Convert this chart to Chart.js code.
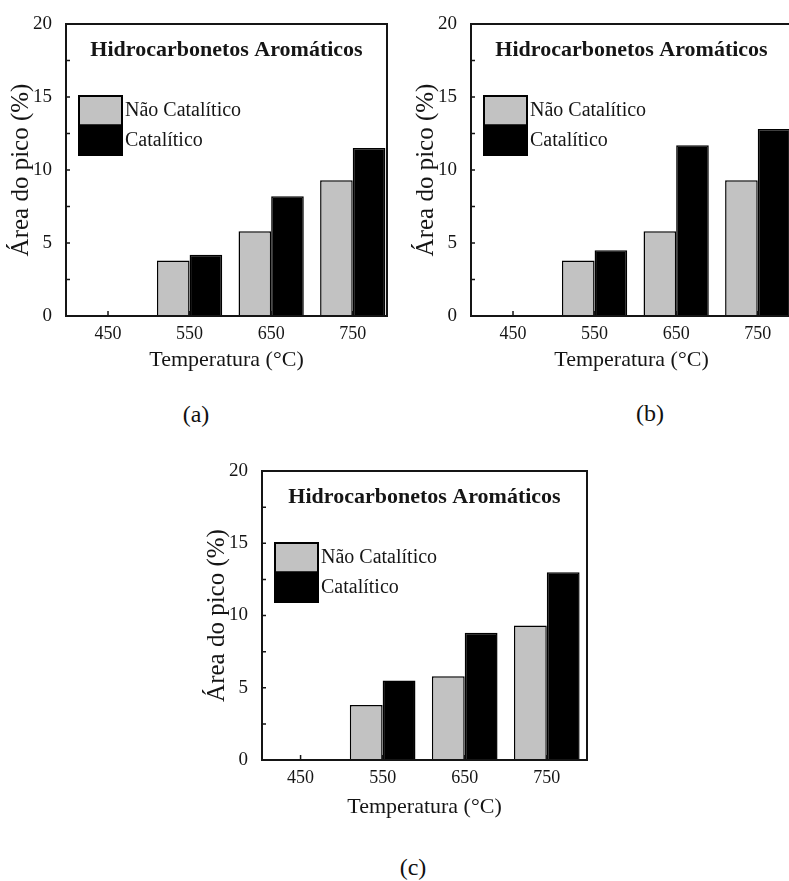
<!DOCTYPE html>
<html>
<head>
<meta charset="utf-8">
<script src="https://cdn.jsdelivr.net/npm/chart.js@4.4.0/dist/chart.umd.min.js"></script>
<style>
  html, body { margin: 0; padding: 0; background: #fff; overflow: hidden; width: 789px; height: 881px; }
  canvas { position: absolute; }
  .tag { position: absolute; font-family: "Liberation Serif", serif; font-size: 24px; color: #111; transform: translate(-50%, -50%); }
</style>
</head>
<body>
<canvas id="chartA" width="400" height="375" style="left:0;top:0"></canvas>
<canvas id="chartB" width="400" height="375" style="left:405px;top:0"></canvas>
<canvas id="chartC" width="400" height="375" style="left:196px;top:447px"></canvas>
<div class="tag" style="left:196px;top:414px">(a)</div>
<div class="tag" style="left:650px;top:413px">(b)</div>
<div class="tag" style="left:413px;top:867px">(c)</div>
<script>
(function () {
    'use strict';

    var temperatures = [450, 550, 650, 750];
    var seriesNames = ['Não Catalítico', 'Catalítico'];
    var naoCatalitico = [0, 3.8, 5.8, 9.3];
    var cataliticoA = [0, 4.2, 8.2, 11.5];
    var cataliticoB = [0, 4.5, 11.7, 12.8];
    var cataliticoC = [0, 5.5, 8.8, 13.0];
    var yTicks = [0, 5, 10, 15, 20];

    var heading = 'Hidrocarbonetos Aromáticos';
    var serif = '"Liberation Serif", "Times New Roman", serif';
    var ink = '#151515';
    var W = 400, H = 375;

    // box around the plot, inward tick marks, heading and legend
    var framePlugin = {
        id: 'frame',
        afterDatasetsDraw: function (chart) {
            var ctx = chart.ctx, a = chart.chartArea;
            var x = chart.scales.x, y = chart.scales.y;
            ctx.save();
            ctx.strokeStyle = ink;
            ctx.lineWidth = 2;
            ctx.strokeRect(a.left, a.top, a.right - a.left, a.bottom - a.top);

            ctx.lineWidth = 1.5;
            ctx.beginPath();
            for (var v = 2.5; v < 20; v += 2.5) {
                var py = y.getPixelForValue(v);
                ctx.moveTo(a.left, py);
                ctx.lineTo(a.left + 4, py);
            }
            temperatures.forEach(function (t) {
                var px = x.getPixelForValue(t);
                ctx.moveTo(px, a.bottom);
                ctx.lineTo(px, a.bottom - 5);
            });
            ctx.stroke();

            ctx.fillStyle = ink;
            ctx.font = 'bold 22px ' + serif;
            ctx.textAlign = 'center';
            ctx.textBaseline = 'middle';
            ctx.fillText(heading, (a.left + a.right) / 2, a.top + 26);

            ctx.font = '20px ' + serif;
            ctx.textAlign = 'left';
            chart.data.datasets.forEach(function (ds, i) {
                var bx = a.left + 13, by = a.top + 72 + i * 29.5;
                ctx.fillStyle = ds.backgroundColor;
                ctx.fillRect(bx, by, 43, 29.5);
                ctx.strokeStyle = '#000';
                ctx.lineWidth = 2;
                ctx.strokeRect(bx, by, 43, 29.5);
                ctx.fillStyle = ink;
                ctx.fillText(ds.label, bx + 46, by + 15);
            });
            ctx.restore();
        }
    };

    function buildPanel(id, catalitico, area, xRange) {
        return new Chart(document.getElementById(id), {
            type: 'bar',
            data: {
                labels: temperatures,
                datasets: [
                    { label: seriesNames[0], data: naoCatalitico, backgroundColor: '#c2c2c2', borderColor: '#000', borderWidth: 1.5 },
                    { label: seriesNames[1], data: catalitico, backgroundColor: '#000', borderColor: '#000', borderWidth: 1.5 }
                ]
            },
            options: {
                responsive: false,
                animation: false,
                layout: { padding: { left: 0, top: area.top, right: W - area.right, bottom: 0 } },
                datasets: { bar: { barPercentage: 1, categoryPercentage: 0.8 } },
                plugins: { legend: { display: false }, tooltip: { enabled: false } },
                scales: {
                    x: {
                        type: 'linear',
                        offset: false,
                        min: xRange[0],
                        max: xRange[1],
                        grid: { display: false },
                        border: { display: false },
                        afterBuildTicks: function (s) { s.ticks = temperatures.map(function (v) { return { value: v }; }); },
                        afterFit: function (s) { s.height = H - area.bottom; },
                        ticks: { color: ink, font: { family: serif, size: 18 }, padding: -1, maxRotation: 0, autoSkip: false },
                        title: { display: true, text: 'Temperatura (°C)', color: ink, font: { family: serif, size: 22, lineHeight: 1 }, padding: { top: 0, bottom: 4 } }
                    },
                    y: {
                        min: 0,
                        max: 20,
                        grid: { display: false },
                        border: { display: false },
                        afterBuildTicks: function (s) { s.ticks = yTicks.map(function (v) { return { value: v }; }); },
                        afterFit: function (s) { s.width = area.left; },
                        ticks: { color: ink, font: { family: serif, size: 19 }, padding: 6 },
                        title: { display: true, text: 'Área do pico (%)', color: ink, font: { family: serif, size: 25, lineHeight: 1 }, padding: { top: 9, bottom: 0 } }
                    }
                }
            },
            plugins: [framePlugin]
        });
    }

    var topArea = { left: 66, top: 24, right: 387, bottom: 316 };
    buildPanel('chartA', cataliticoA, topArea, [398.5, 792]);
    buildPanel('chartB', cataliticoB, topArea, [398.5, 792]);
    buildPanel('chartC', cataliticoC, { left: 66, top: 24, right: 391, bottom: 313 }, [403, 799]);
})();
</script>
</body>
</html>
